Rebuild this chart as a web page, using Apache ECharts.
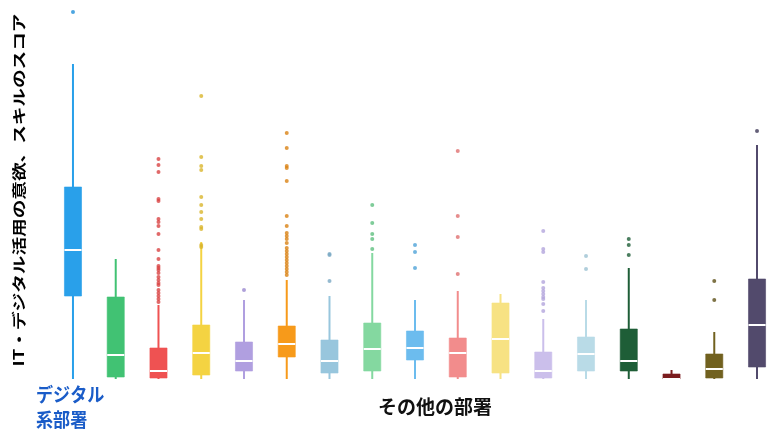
<!DOCTYPE html>
<html lang="ja">
<head>
    <meta charset="UTF-8">
    <title>IT・デジタル活用の意欲、スキルのスコア</title>
    <script src="https://cdn.jsdelivr.net/npm/echarts@6/dist/echarts.min.js"></script>
    <style>
        html, body { margin: 0; padding: 0; background: #fff; }
    </style>
</head>
<body>

<div id="wrap" style="width: 780px; height: 441px;"></div>

<script>
    // 部署（左端がデジタル系部署、残りはその他の部署）
    var depts = ['デジタル系部署', '部署A', '部署B', '部署C', '部署D', '部署E', '部署F', '部署G',
        '部署H', '部署I', '部署J', '部署K', '部署L', '部署M', '部署N', '部署O', '部署P'];

    // 箱ひげ: [下ひげ, 第1四分位, 中央値, 第3四分位, 上ひげ]
    var boxStats = [
        [0, 83, 129, 192, 315],
        [0, 2, 24, 82, 120],
        [0, 1, 8, 31, 74],
        [0, 4, 26, 54, 137],
        [0, 8, 18, 37, 79],
        [0, 22, 35, 53, 99],
        [0, 6, 18, 39, 83],
        [0, 8, 30, 56, 126],
        [0, 19, 31, 48, 79],
        [0, 2, 26, 41, 88],
        [0, 6, 40, 76, 85],
        [0, 1, 8, 27, 60],
        [0, 8, 25, 42, 79],
        [0, 8, 18, 50, 111],
        [0, 0, 0, 5, 9],
        [0, 1, 10, 25, 47],
        [0, 12, 54, 100, 234]
    ];

    // 外れ値（部署ごと）
    var outliers = [
        [367],
        [],
        [220, 214, 207, 180, 178, 160, 157, 153, 145, 129, 120, 113, 111, 109, 106, 102, 99, 96, 94, 89, 86, 83, 80, 77],
        [283, 222, 213, 209, 182, 174, 167, 160, 152, 150, 134, 132],
        [89],
        [246, 231, 213, 211, 198, 163, 153, 146, 143, 140, 136, 131, 128, 125, 122, 119, 116, 113, 110, 107, 104],
        [125, 124, 98],
        [174, 156, 145, 140, 130],
        [134, 127, 111],
        [228, 163, 142, 105],
        [],
        [148, 130, 127, 97, 91, 88, 85, 82, 80, 75, 68],
        [123, 110],
        [140, 134, 124],
        [],
        [98, 79],
        [248]
    ];

    var boxColors = ['#29a0ea', '#41c273', '#ef5252', '#f4d342', '#b09fe0', '#f79a1a', '#98c6dd', '#84d8a0',
        '#6cbcee', '#f28c8c', '#f7e283', '#cbbfeb', '#b9dbe7', '#1e5e37', '#7b1c1e', '#71611f', '#524a6c'];
    var dotColors = ['#1f8fd8', '#30a860', '#d84444', '#d9b52c', '#9a88d0', '#d98214', '#7aa9c4', '#5fbf80',
        '#4fa3d8', '#e07070', '#e0c560', '#b3a5dc', '#9cc2d2', '#1e5e37', '#7b1c1e', '#5e5018', '#3f3858'];

    var boxData = boxStats.map(function (s, i) {
        return [i].concat(s);
    });
    var dotData = [];
    outliers.forEach(function (list, i) {
        list.forEach(function (v) { dotData.push([i, v]); });
    });

    var myChart = echarts.init(document.getElementById('wrap'));

    var option = {
        animation: false,
        grid: {
            left: 51.6,
            right: 1.6,
            top: 0,
            bottom: 62
        },
        xAxis: {
            type: 'category',
            data: depts,
            show: false
        },
        yAxis: {
            type: 'value',
            min: 0,
            max: 379,
            show: false
        },
        graphic: [
            {
                type: 'text',
                x: 19, y: 190,
                rotation: Math.PI / 2,
                scaleX: 1.33,
                style: {
                    text: 'IT・デジタル活用の意欲、スキルのスコア',
                    fontSize: 14, fontWeight: 'bold',
                    fontFamily: '"Noto Sans CJK JP", sans-serif',
                    fill: '#000', align: 'center', verticalAlign: 'middle'
                }
            },
            {
                type: 'text',
                x: 36, y: 382,
                scaleX: 0.9,
                style: {
                    text: 'デジタル\n系部署',
                    fontSize: 19, fontWeight: 'bold', lineHeight: 25,
                    fontFamily: '"Noto Sans CJK JP", sans-serif',
                    fill: '#1a5cc8', align: 'left', verticalAlign: 'top'
                }
            },
            {
                type: 'text',
                x: 435, y: 407,
                style: {
                    text: 'その他の部署',
                    fontSize: 19, fontWeight: 'bold',
                    fontFamily: '"Noto Sans CJK JP", sans-serif',
                    fill: '#111', align: 'center', verticalAlign: 'middle'
                }
            }
        ],
        series: [
            {
                name: 'box',
                type: 'custom',
                data: boxData,
                renderItem: function (params, api) {
                    var idx = api.value(0);
                    var low = api.coord([idx, api.value(1)]);
                    var q1 = api.coord([idx, api.value(2)]);
                    var med = api.coord([idx, api.value(3)]);
                    var q3 = api.coord([idx, api.value(4)]);
                    var high = api.coord([idx, api.value(5)]);
                    var w = api.size([1, 0])[0] * 0.4;
                    var col = boxColors[idx];
                    return {
                        type: 'group',
                        children: [
                            {
                                type: 'line',
                                shape: { x1: low[0], y1: low[1], x2: high[0], y2: high[1] },
                                style: { stroke: col, lineWidth: 2 }
                            },
                            {
                                type: 'rect',
                                shape: { x: q3[0] - w / 2, y: q3[1], width: w, height: Math.max(q1[1] - q3[1], 1) },
                                style: { fill: col, stroke: echarts.color.modifyAlpha(col, 0.6), lineWidth: 1 }
                            },
                            {
                                type: 'line',
                                shape: { x1: med[0] - w / 2, y1: med[1], x2: med[0] + w / 2, y2: med[1] },
                                style: { stroke: '#fff', lineWidth: 2 }
                            }
                        ]
                    };
                }
            },
            {
                name: 'outlier',
                type: 'scatter',
                data: dotData,
                symbolSize: 4,
                itemStyle: {
                    color: function (p) { return dotColors[p.data[0]]; }
                }
            }
        ]
    };

    myChart.setOption(option);
</script>
</body>
</html>
